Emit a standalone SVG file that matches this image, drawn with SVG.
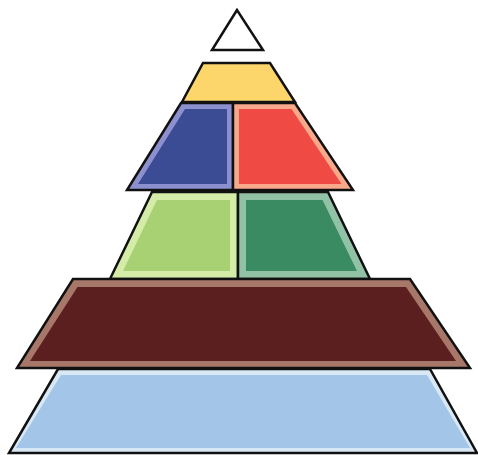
<svg xmlns="http://www.w3.org/2000/svg" width="478" height="455" viewBox="0 0 478 455">
<style>
.o{stroke:#111;stroke-width:2.5;stroke-linejoin:miter}
</style>
<rect width="478" height="455" fill="#ffffff"/>
<g id="top-triangle">
<polygon class="o" points="237,10 212,50 263,50" fill="#ffffff"/>
</g>
<g id="yellow">
<polygon class="o" points="203,63 270,63 295,102 182,102" fill="#fcd66a"/>
</g>
<g id="blue">
<polygon class="o" points="181,103 233,103 233,190 127,190" fill="#8d90cf"/>
<polygon points="185,109 227,109 227,184 138,184" fill="#3b4b94"/>
</g>
<g id="red">
<polygon class="o" points="233,103 295,103 353,190 233,190" fill="#f8a98c"/>
<polygon points="239,109 291.5,109 341.5,184 239,184" fill="#ef4a43"/>
</g>
<g id="light-green">
<polygon class="o" points="152,192 238,192 238,279 110,279" fill="#d5eca8"/>
<polygon points="157,200 230,200 230,271 123,271" fill="#a8d173"/>
</g>
<g id="dark-green">
<polygon class="o" points="238,192 328,192 370,279 238,279" fill="#92c2a6"/>
<polygon points="246,200 322.5,200 357,271 246,271" fill="#3a8a62"/>
</g>
<g id="brown">
<polygon class="o" points="73,279 410,279 470,368 17,368" fill="#a7786a"/>
<polygon points="77.5,287 406,287 456,361 30,361" fill="#5c1f20"/>
</g>
<g id="light-blue">
<polygon class="o" points="58,369 430,369 477,453 9,453" fill="#d8e8f5"/>
<polygon points="61,375 427,375 470,448 16,448" fill="#a3c6e8"/>
</g>
<g id="connectors"></g>
</svg>
